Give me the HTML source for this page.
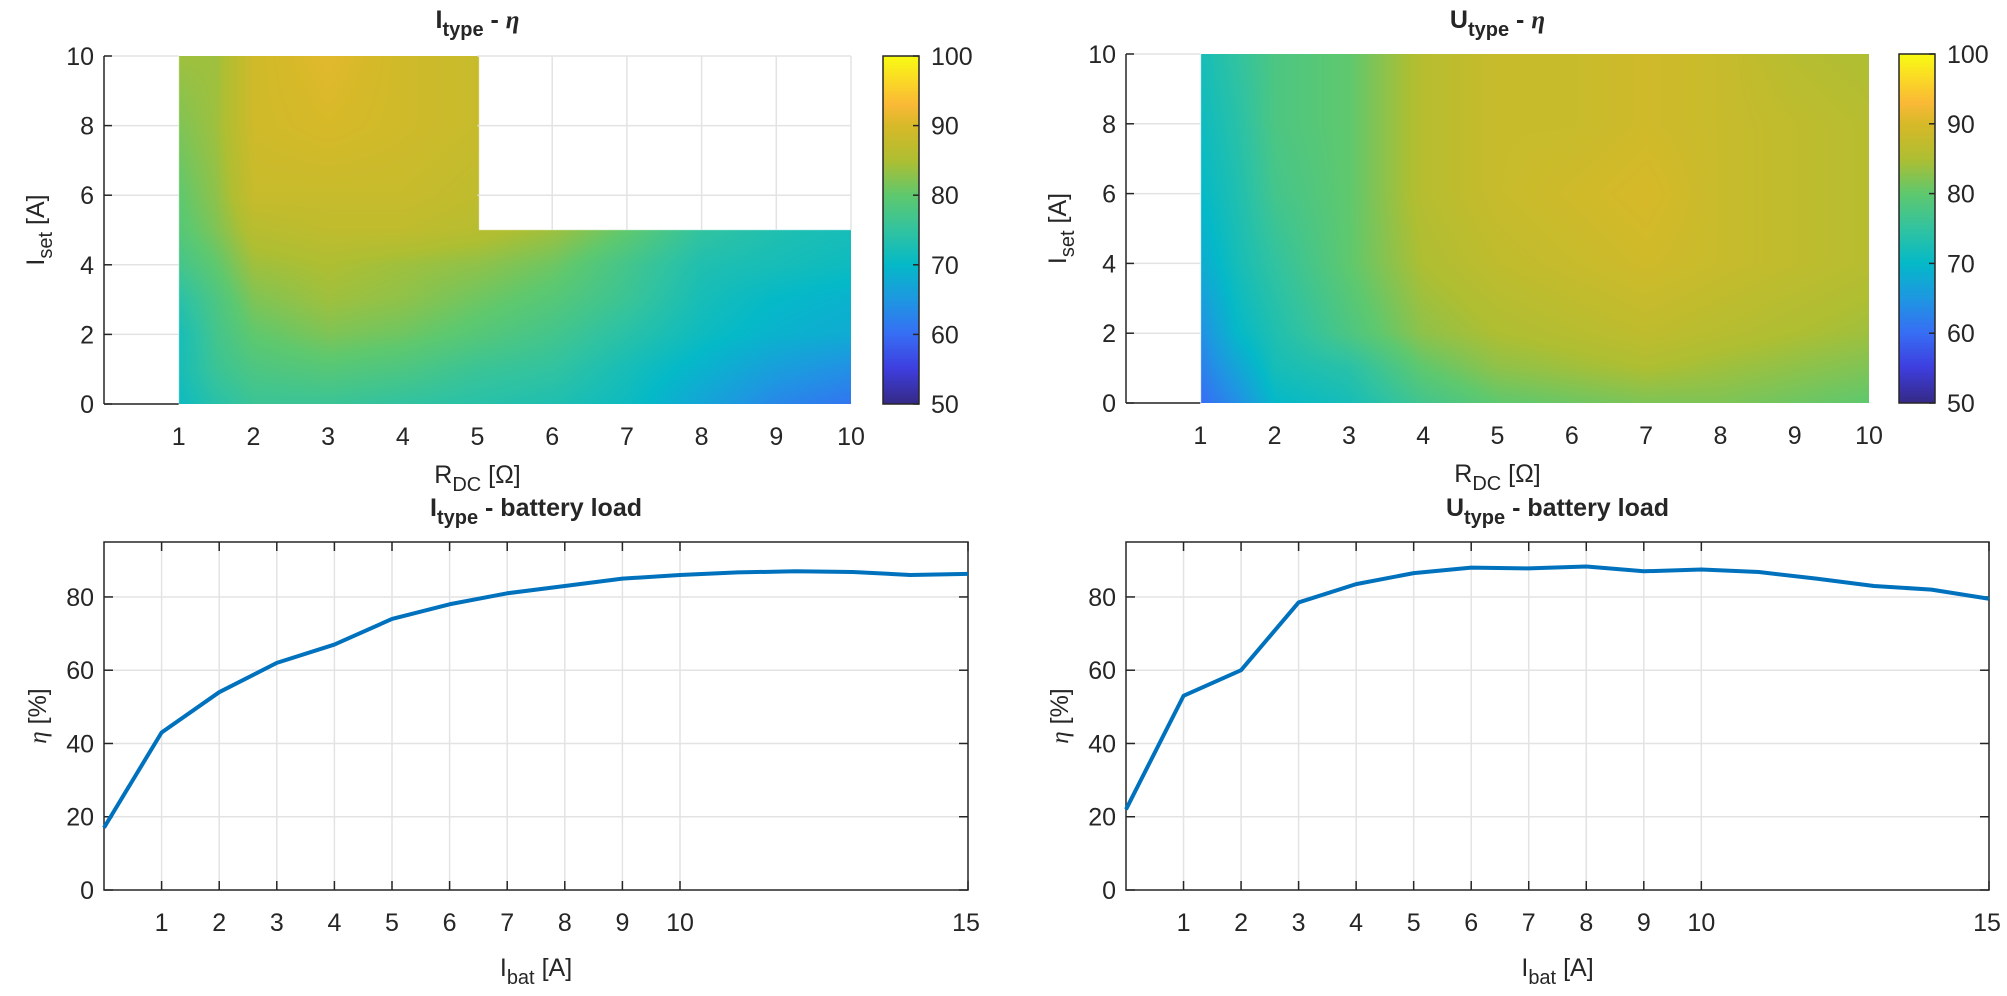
<!DOCTYPE html>
<html><head><meta charset="utf-8"><style>
html,body{margin:0;padding:0;background:#fff;}
#w{position:relative;width:2007px;height:996px;overflow:hidden;}
canvas{position:absolute;}
svg{position:absolute;left:0;top:0;}
text{font-family:"Liberation Sans",sans-serif;fill:#262626;font-size:25px;}
.b{font-weight:bold;}
</style></head><body><div id="w">
<canvas id="h1" width="747" height="348" style="left:104px;top:56px"></canvas>
<canvas id="h2" width="743" height="349" style="left:1126px;top:54px"></canvas>
<canvas id="c1" width="36" height="348" style="left:883px;top:56px"></canvas>
<canvas id="c2" width="36" height="349" style="left:1899px;top:54px"></canvas>
<svg id="s" width="2007" height="996"></svg>
</div>
<script>
const NS="http://www.w3.org/2000/svg";const S=document.getElementById('s');
function el(t,a,txt){const e=document.createElementNS(NS,t);for(const k in a)e.setAttribute(k,a[k]);if(txt!==undefined)e.innerHTML=txt;S.appendChild(e);return e;}
const P=[[0,[53,42,135]],[0.1,[62,62,222]],[0.2,[55,110,245]],[0.3,[30,152,225]],[0.4,[5,185,200]],[0.5,[50,195,160]],[0.6,[95,200,110]],[0.7,[175,190,50]],[0.8,[215,185,40]],[0.86,[250,185,55]],[0.92,[250,212,40]],[1,[249,251,20]]];
function pc(t){t=Math.max(0,Math.min(1,t));for(let i=1;i<P.length;i++){if(t<=P[i][0]){const a=P[i-1],b=P[i];const f=(t-a[0])/(b[0]-a[0]);return a[1].map((v,k)=>Math.round(v+(b[1][k]-v)*f));}}return P[P.length-1][1];}
function interp(xs,ys,G,x,y){let i=0;while(i<xs.length-2&&x>xs[i+1])i++;let j=0;while(j<ys.length-2&&y>ys[j+1])j++;
const fx=Math.max(0,Math.min(1,(x-xs[i])/(xs[i+1]-xs[i]))),fy=Math.max(0,Math.min(1,(y-ys[j])/(ys[j+1]-ys[j])));
const a=G[j][i],b=G[j][i+1],c=G[j+1][i],d=G[j+1][i+1];return a*(1-fx)*(1-fy)+b*fx*(1-fy)+c*(1-fx)*fy+d*fx*fy;}
const xs=[1,1.5,2,3,4,5,6,7,8,9,10];
const ys1=[0,1,2,3,4,5,6,8,10];
const G1=[
[71,74,76,76,75,74,73,71,67,63,61],
[72,76,78,79,78,76,75,72,69,66,64],
[72,77,80,82,81,79,77,74,71,69,68],
[74,78,82,84,83,81,79,76,72,70,69],
[77,80,84,85,84,83,81,77,73,72,71],
[79,82,86,87,87,86,84,80,75,73,72],
[80,83,88,88,88,87,87,87,87,87,87],
[82,84,89,90,89,88,88,88,88,88,88],
[84,84,89,91,89,88,88,88,88,88,88]];
const ys2=[0,1,2,4,6,8,10];
const G2=[
[60,64,70,72,77,80,81,82,82,81,80],
[62,67,72,74,80,83,84,85,84,83,82],
[64,70,73,78,83,85,86,87,86,85,84],
[68,72,75,80,85,87,88,89,88,87,86],
[70,73,77,80,86,88,89,90,88,87,86],
[71,74,78,80,86,88,88,89,88,87,86],
[72,75,78,80,86,88,88,89,88,86,85]];
function draw(id,W,H,x0,fn){const c=document.getElementById(id).getContext('2d');const im=c.createImageData(W,H);
for(let py=0;py<H;py++)for(let px=0;px<W;px++){const x=x0(px),y=10*(1-py/(H-1));const v=fn(x,y);const o=(py*W+px)*4;if(v===null)continue;const col=pc((v-50)/50);im.data[o]=col[0];im.data[o+1]=col[1];im.data[o+2]=col[2];im.data[o+3]=255;}
c.putImageData(im,0,0);}
draw('h1',747,348,px=>px/74.7,(x,y)=>{if(x<1)return null;if(x>5.01&&y>5)return null;return interp(xs,ys1,G1,x,y);});
draw('h2',743,349,px=>px/74.3,(x,y)=>{if(x<1)return null;return interp(xs,ys2,G2,x,y);});
function cbar(id,H){const c=document.getElementById(id).getContext('2d');for(let py=0;py<H;py++){const col=pc(1-py/(H-1));c.fillStyle=`rgb(${col})`;c.fillRect(0,py,36,1);}}
cbar('c1',348);cbar('c2',349);
function heatAxes(L,T,R,B,cbx,title,isU){
 const W=R-L,H=B-T;
 for(let k=0;k<=5;k++){const y=B-H*k/5;
  el('line',{x1:L,x2:L+W/10,y1:y,y2:y,stroke:'#e3e3e3','stroke-width':1.5});
  if(!isU&&k>=3)el('line',{x1:L+W/2,x2:R,y1:y,y2:y,stroke:'#e3e3e3','stroke-width':1.5});
  el('line',{x1:L,x2:L+8,y1:y,y2:y,stroke:'#262626','stroke-width':1.5});
  el('text',{x:L-10,y:y+9,'text-anchor':'end'},String(k*2));}
 if(!isU)for(let i=6;i<=10;i++){const x=L+W*i/10;el('line',{x1:x,x2:x,y1:T,y2:T+H/2,stroke:'#e3e3e3','stroke-width':1.5});}
 el('line',{x1:L,x2:L,y1:T,y2:B,stroke:'#262626','stroke-width':1.5});
 el('line',{x1:L,x2:L+W/10,y1:B,y2:B,stroke:'#262626','stroke-width':1.5});
 for(let i=1;i<=10;i++)el('text',{x:L+W*i/10,y:B+41,'text-anchor':'middle'},String(i));
 const cx=(L+R)/2;
 el('text',{x:cx,y:B+79,'text-anchor':'middle'},'R<tspan font-size="20" dy="8">DC</tspan><tspan dy="-8"> [Ω]</tspan>');
 el('text',{x:cx,y:28,'text-anchor':'middle','class':'b'},(isU?'U':'I')+'<tspan font-size="20" dy="8">type</tspan><tspan dy="-8"> - </tspan><tspan font-family="Liberation Serif" font-style="italic">η</tspan>');
 el('text',{transform:`translate(${L-60},${(T+B)/2}) rotate(-90)`,'text-anchor':'middle'},'I<tspan font-size="20" dy="8">set</tspan><tspan dy="-8"> [A]</tspan>');
 el('rect',{x:cbx,y:T,width:36,height:H,fill:'none',stroke:'#262626','stroke-width':1.5});
 for(let k=0;k<=5;k++){const y=B-H*k/5;el('line',{x1:cbx+30,x2:cbx+36,y1:y,y2:y,stroke:'#262626','stroke-width':1.5});el('text',{x:cbx+48,y:y+9},String(50+10*k));}
}
heatAxes(104,56,851,404,883,'',false);
heatAxes(1126,54,1869,403,1899,'',true);
function lineAxes(L,T,R,B,data,isU){
 const W=R-L,H=B-T,ymax=95;const X=v=>L+W*v/15,Y=v=>B-H*v/ymax;
 for(let i=1;i<=10;i++){el('line',{x1:X(i),x2:X(i),y1:T,y2:B,stroke:'#e3e3e3','stroke-width':1.5});}
 for(let k=1;k<=4;k++){el('line',{x1:L,x2:R,y1:Y(k*20),y2:Y(k*20),stroke:'#e3e3e3','stroke-width':1.5});}
 el('rect',{x:L,y:T,width:W,height:H,fill:'none',stroke:'#262626','stroke-width':1.5});
 for(let i=1;i<=15;i++){if(i>10&&i<15)continue;const x=X(i);el('line',{x1:x,x2:x,y1:B,y2:B-9,stroke:'#262626','stroke-width':1.5});el('line',{x1:x,x2:x,y1:T,y2:T+9,stroke:'#262626','stroke-width':1.5});el('text',{x:i==15?x-2:x,y:B+41,'text-anchor':'middle'},String(i));}
 for(let k=0;k<=4;k++){const y=Y(k*20);el('line',{x1:L,x2:L+9,y1:y,y2:y,stroke:'#262626','stroke-width':1.5});el('line',{x1:R,x2:R-9,y1:y,y2:y,stroke:'#262626','stroke-width':1.5});el('text',{x:L-10,y:y+9,'text-anchor':'end'},String(k*20));}
 el('polyline',{points:data.map((v,i)=>X(i)+','+Y(v)).join(' '),fill:'none',stroke:'#0072bd','stroke-width':4,'stroke-linejoin':'round'});
 const cx=(L+R)/2;
 el('text',{x:cx,y:B+86,'text-anchor':'middle'},'I<tspan font-size="20" dy="8">bat</tspan><tspan dy="-8"> [A]</tspan>');
 el('text',{x:cx,y:516,'text-anchor':'middle','class':'b'},(isU?'U':'I')+'<tspan font-size="20" dy="8">type</tspan><tspan dy="-8"> - battery load</tspan>');
 el('text',{transform:`translate(${L-58},${(T+B)/2}) rotate(-90)`,'text-anchor':'middle'},'<tspan font-family="Liberation Serif" font-style="italic">η</tspan> [%]');
}
lineAxes(104,542,968,890,[17,43,54,62,67,74,78,81,83,85,86,86.7,87,86.8,86,86.3],false);
lineAxes(1126,542,1989,890,[22,53,60,78.5,83.5,86.5,88,87.8,88.3,87,87.5,86.8,85,83,82,79.5],true);
</script>
</body></html>
